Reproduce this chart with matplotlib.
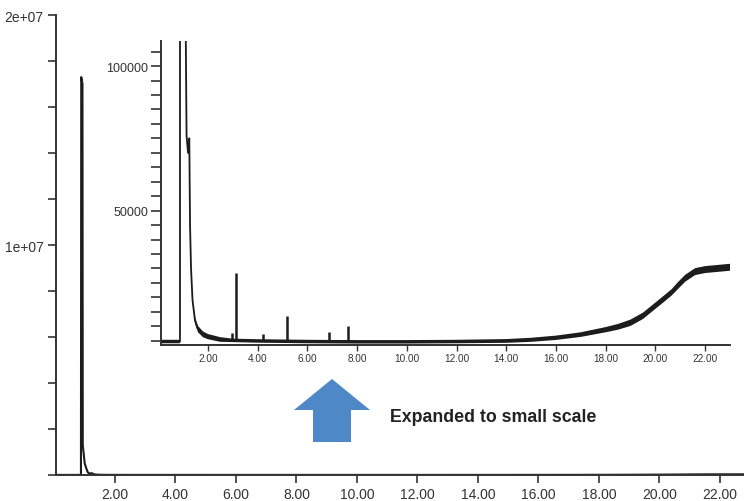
import matplotlib
matplotlib.use("Agg")
import matplotlib.pyplot as plt
from matplotlib.patches import Polygon

plt.rcParams["font.family"] = ["Liberation Sans", "DejaVu Sans"]

# --------------------------------------------------
# TIC trace (time in min, abundance in counts)

ret_time = [
    0.10, 0.50, 0.875, 0.885, 0.925, 0.935, 1.00, 1.06, 1.10, 1.14,
    1.20, 1.25, 1.28, 1.32, 1.38, 1.48, 1.60, 1.80, 2.00, 2.50,
    3.00, 4.00, 6.00, 8.00, 10.00, 12.00, 14.00, 15.00, 16.00, 17.00,
    18.00, 18.50, 19.00, 19.50, 20.00, 20.30, 20.65, 20.90, 21.20, 21.60,
    22.00, 22.50, 23.00,
]

abundance = [
    4700, 4700, 4700, 17300000, 17000000, 1300000, 500000, 260000, 120000, 76000,
    70000, 75000, 45000, 30000, 19000, 12000, 9000, 7200, 6400, 5400,
    5100, 4900, 4700, 4600, 4600, 4700, 4900, 5300, 6000, 7100,
    8800, 9800, 11200, 13600, 17100, 19200, 21700, 24000, 26600, 28900,
    29600, 30000, 30400,
]

# half thickness of the noise band seen on the expanded scale
noise_halfwidth = [
    600, 600, 600, 0, 0, 0, 0, 0, 0, 0,
    800, 800, 900, 900, 1000, 1100, 1100, 1000, 900, 800,
    600, 600, 600, 600, 600, 600, 650, 700, 750, 800,
    900, 1000, 1100, 1100, 1100, 1100, 1100, 1200, 1200, 1200,
    1200, 1200, 1200,
]

# small peaks only visible on the expanded scale
peak_time = [2.95, 3.13, 4.20, 5.17, 6.88, 7.63]
peak_height = [7700, 28400, 7400, 13700, 8000, 10100]
peak_base = [5100, 5100, 4900, 4800, 4700, 4650]

main_xticks = [2, 4, 6, 8, 10, 12, 14, 16, 18, 20, 22]
main_yticks = [0, 2e6, 4e6, 6e6, 8e6, 1e7, 1.2e7, 1.4e7, 1.6e7, 1.8e7, 2e7]
main_ylabels = ["", "", "", "", "", "1e+07", "", "", "", "", "2e+07"]

inset_yticks = list(range(5000, 105001, 5000))
inset_ylabels = [str(v) if v in (50000, 100000) else "" for v in inset_yticks]

label_text = "Expanded to small scale"

W, H = 744, 502
TRACE = "#1c1c1c"
AXIS = "#333333"


def px_rect(left, top, right, bottom):
    return [left / W, 1 - bottom / H, (right - left) / W, (bottom - top) / H]


def style_axes(ax, lw=1.4):
    for side in ("top", "right"):
        ax.spines[side].set_visible(False)
    for side in ("left", "bottom"):
        ax.spines[side].set_color(AXIS)
        ax.spines[side].set_linewidth(lw)


fig = plt.figure(figsize=(W / 100, H / 100), dpi=100)

# --------------------------------------------------
# full scale chromatogram

ax = fig.add_axes(px_rect(56, 16, 744, 476))
ax.plot(ret_time, abundance, color=TRACE, lw=1.5)
ax.set_xlim(0.05, 22.8)
ax.set_ylim(0, 2e7)
style_axes(ax)

ax.set_xticks(main_xticks)
ax.set_xticklabels([f"{v:.2f}" for v in main_xticks])
ax.set_yticks(main_yticks)
ax.set_yticklabels(main_ylabels)
ax.tick_params(axis="x", direction="out", length=6, width=1.2, pad=3,
               labelsize=10, colors=AXIS)
ax.tick_params(axis="y", direction="out", length=6, width=1.2, pad=3,
               labelsize=10, colors=AXIS)

# --------------------------------------------------
# expanded scale inset

ins = fig.add_axes(px_rect(160.7, 42, 730, 346))
lo = [a - n for a, n in zip(abundance, noise_halfwidth)]
hi = [a + n for a, n in zip(abundance, noise_halfwidth)]
ins.fill_between(ret_time, lo, hi, color=TRACE, lw=0)
ins.plot(ret_time, abundance, color=TRACE, lw=1.3)
ins.vlines(peak_time, peak_base, peak_height, color=TRACE, lw=1.8)
ins.set_xlim(0.1, 23.0)
ins.set_ylim(3500, 108700)
style_axes(ins)

ins.set_xticks(main_xticks)
ins.set_xticklabels([f"{v:.2f}" for v in main_xticks])
ins.set_yticks(inset_yticks)
ins.set_yticklabels(inset_ylabels)
ins.tick_params(axis="x", direction="out", length=4, width=1.0, pad=2,
                labelsize=7.2, colors=AXIS)
ins.tick_params(axis="y", direction="out", length=7, width=1.2, pad=2,
                labelsize=9, colors=AXIS)

# --------------------------------------------------
# arrow and caption

arrow_px = [(332, 380), (370, 411), (351, 411), (351, 443),
            (313, 443), (313, 411), (294, 411)]
arrow = Polygon([(x / W, 1 - y / H) for x, y in arrow_px], closed=True,
                transform=fig.transFigure, facecolor="#4f88c6", edgecolor="none")
fig.add_artist(arrow)

fig.text(390 / W, 1 - 417 / H, label_text, fontsize=12.8, fontweight="bold",
         color="#222222", ha="left", va="center")

fig.savefig("out.png", dpi=100)
